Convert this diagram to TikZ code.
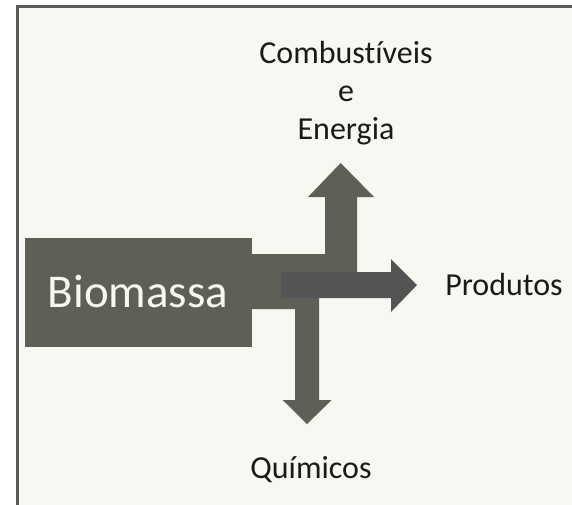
\documentclass[tikz,border=0pt]{standalone}
\usepackage{fontspec}
\setmainfont{Carlito}[Ligatures=NoCommon]
\usetikzlibrary{positioning}
\definecolor{panelbg}{HTML}{F6F8F2}
\definecolor{framegray}{HTML}{5A5A5A}
\definecolor{flowgray}{HTML}{5E6058}
\definecolor{arrowdark}{HTML}{545454}
\definecolor{labelblack}{HTML}{1A1A1A}

\begin{document}
\begin{tikzpicture}[x=1pt, y=-1pt, font=\fontsize{32}{38}\selectfont]
  \tikzset{outlabel/.style={text=labelblack, inner sep=0pt, anchor=base, align=center}}
  \useasboundingbox (0,0) rectangle (572,504);
  % Panel
  \fill[panelbg] (17,6) rectangle (576,508);
  \draw[framegray, line width=2.6pt] (17.5,508) -- (17.5,6.2) -- (576,6.2);

  % Biomass block
  \fill[flowgray] (25,238) rectangle (252,347);
  \node[text=panelbg, inner sep=0pt, anchor=base, font=\fontsize{47}{50}\selectfont] (biomassa) at (138,307) {Biomassa};

  % Split into up and down arrows
  \fill[flowgray] (252,254) -- (325,254) -- (325,197) -- (308,197) -- (340.7,163)
    -- (374,197) -- (357,197) -- (357,285) -- (319,285) -- (319,400) -- (331.7,400)
    -- (307,424) -- (282.7,400) -- (295,400) -- (295,309) -- (252,309) -- cycle;

  % Arrow to products
  \fill[arrowdark] (281,272) -- (391,272) -- (391,259) -- (417,285) -- (391,312)
    -- (391,298) -- (281,298) -- cycle;

  % Labels
  \node[outlabel] (fuel) at (346,139) {Combustíveis\\e\\Energia};
  \node[outlabel] (products) at (504,295) {Produtos};
  \node[outlabel] (chemicals) at (311,478) {Químicos};
\end{tikzpicture}
\end{document}
